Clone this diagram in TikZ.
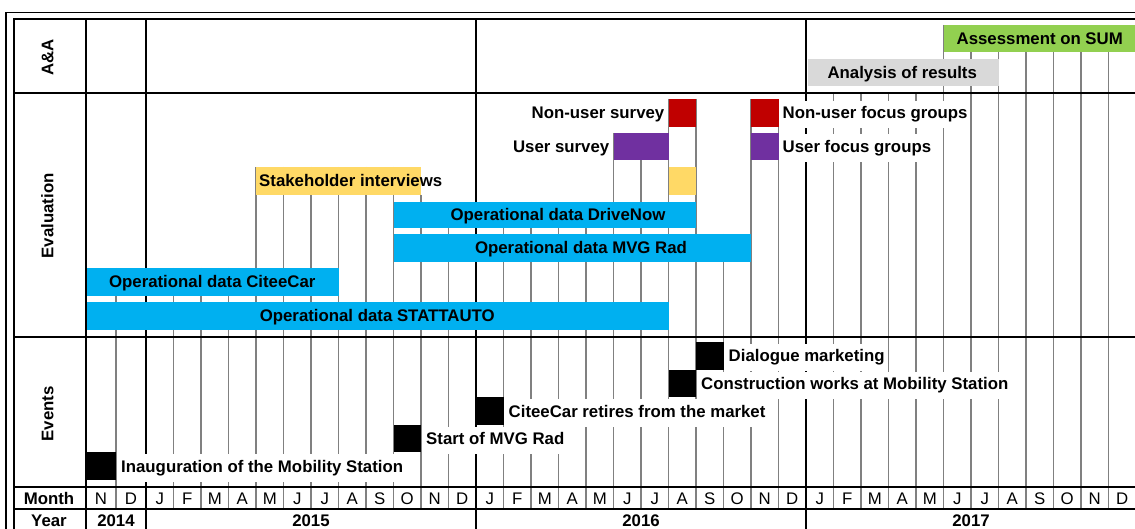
\documentclass[tikz,border=0pt]{standalone}
\usepackage{fontspec}
\setmainfont{Liberation Sans}
\usepackage{xcolor}
\usepackage{tikz}

\definecolor{cbarblue}{HTML}{00B0F0}
\definecolor{cbaryellow}{HTML}{FFD966}
\definecolor{cbarred}{HTML}{C00000}
\definecolor{cbarpurple}{HTML}{7030A0}
\definecolor{cbargreen}{HTML}{92D050}
\definecolor{cbargray}{HTML}{D9D9D9}
\definecolor{clinegray}{HTML}{808080}

\begin{document}
\begin{tikzpicture}[x=1pt,y=-1pt,
	declare function={mx(\k)=(\k<2)*(86+30*\k)+(\k>=2)*(146+27.5*(\k-2));},
	monthline/.style={draw=clinegray,line width=1.3pt},
	boldline/.style={line width=2.2pt},
	txt/.style={font=\fontsize{16.8}{20}\selectfont\bfseries,text height=12pt,text depth=3.5pt,yshift=-1.75pt,inner xsep=2pt,inner ysep=6pt},
	evtag/.style={txt,fill=white},
	mlabel/.style={font=\fontsize{16.8}{20}\selectfont,text height=12pt,text depth=0pt,inner sep=0pt}]
	\useasboundingbox (0,0) rectangle (1135,529);
	
	% month lines, each starting at the first bar it meets
	\foreach \k/\top in {1/268,3/268,4/268,5/268,6/167,7/167,8/167,9/167,10/167,11/167,12/195,13/202,15/202,16/202,17/202,18/202,19/133,20/133,21/99,22/99,23/234,24/99,25/99,27/93,28/93,29/93,30/93,31/25,32/25,33/25,34/25,35/25,36/25,37/25}{
		\draw[monthline] ({mx(\k)},\top) -- ({mx(\k)},509);
	}
	\foreach \k in {2,14,26}{
		\draw[boldline] ({mx(\k)},19) -- ({mx(\k)},540);
	}
	
	% A&A
	\fill[cbargreen] ({mx(31)},25) rectangle ({mx(38)},52);
	\node[txt] (assessment) at ({(mx(31)+mx(38))/2},38.5) {Assessment on SUM};
	\fill[cbargray] ({mx(26)+1.5},59) rectangle ({mx(33)},86);
	\node[txt] (analysis) at ({(mx(26)+mx(33))/2},72.5) {Analysis of results};
	
	% Evaluation
	\fill[cbarred] ({mx(21)},99) rectangle ({mx(22)},127);
	\fill[cbarred] ({mx(24)},99) rectangle ({mx(25)},127);
	\fill[cbarpurple] ({mx(19)},133) rectangle ({mx(21)},160);
	\fill[cbarpurple] ({mx(24)},133) rectangle ({mx(25)},160);
	\fill[cbaryellow] ({mx(6)},167) rectangle ({mx(12)},195);
	\fill[cbaryellow] ({mx(21)},167) rectangle ({mx(22)},195);
	\fill[cbarblue] ({mx(11)},202) rectangle ({mx(22)},228);
	\fill[cbarblue] ({mx(11)},234) rectangle ({mx(24)},262);
	\fill[cbarblue] ({mx(0)},268) rectangle ({mx(9)},296);
	\fill[cbarblue] ({mx(0)},302) rectangle ({mx(21)},330);
	
	\node[evtag,anchor=east] (nonusersurvey) at ({mx(21)-2},113) {Non-user survey};
	\node[evtag,anchor=west] (nonuserfocus) at ({mx(25)+2},113) {Non-user focus groups};
	\node[evtag,anchor=east] (usersurvey) at ({mx(19)-2},146.5) {User survey};
	\node[evtag,anchor=west] (userfocus) at ({mx(25)+2},146.5) {User focus groups};
	\node[txt,anchor=west] (stakeholder) at ({mx(6)+1},181) {Stakeholder interviews};
	\node[txt] (drivenow) at (558,215) {Operational data DriveNow};
	\node[txt] (mvgrad) at (581,248) {Operational data MVG Rad};
	\node[txt] (citeecar) at ({(mx(0)+mx(9))/2},282) {Operational data CiteeCar};
	\node[txt] (stattauto) at ({(mx(0)+mx(21))/2},316) {Operational data STATTAUTO};
	
	% Events
	\fill ({mx(22)},342) rectangle ({mx(23)},369.5);
	\node[evtag,anchor=west] (dialogue) at ({mx(23)+3},355.5) {Dialogue marketing};
	\fill ({mx(21)},369.5) rectangle ({mx(22)},397);
	\node[evtag,anchor=west] (construction) at ({mx(22)+3},383.5) {Construction works at Mobility Station};
	\fill ({mx(14)},397) rectangle ({mx(15)},425);
	\node[evtag,anchor=west] (retires) at ({mx(15)+3},411) {CiteeCar retires from the market};
	\fill ({mx(11)},425) rectangle ({mx(12)},452);
	\node[evtag,anchor=west] (startmvg) at ({mx(12)+3},438.5) {Start of MVG Rad};
	\fill ({mx(0)},452) rectangle ({mx(1)},480);
	\node[evtag,anchor=west] (inauguration) at ({mx(1)+3},466) {Inauguration of the Mobility Station};
	
	% time axis
	\foreach \m [count=\k from 0] in {N,D,J,F,M,A,M,J,J,A,S,O,N,D,J,F,M,A,M,J,J,A,S,O,N,D,J,F,M,A,M,J,J,A,S,O,N,D}{
		\node[mlabel] (m\k) at ({(mx(\k)+mx(\k+1))/2},498) {\m};
	}
	\foreach \yr/\a/\b in {2014/0/2,2015/2/14,2016/14/26,2017/26/38}{
		\node[txt] (y\yr) at ({(mx(\a)+mx(\b))/2},520.5) {\yr};
	}
	
	% row heads
	\node[txt,rotate=90] (aa) at (49,56) {A\&A};
	\node[txt,rotate=90] (evaluation) at (49,214) {Evaluation};
	\node[txt,rotate=90] (events) at (49,412) {Events};
	\node[txt] (monthhead) at (49,498) {Month};
	\node[txt] (yearhead) at (49,520.5) {Year};
	
	% frame
	\foreach \y in {93,337,487,509}{
		\draw[boldline] (14,\y) -- (1145,\y);
	}
	\draw[boldline] (86,19) -- (86,540);
	\draw[boldline] (14,19) rectangle (1142,545);
	\draw[line width=1.8pt] (6,12.5) rectangle (1150,550);
\end{tikzpicture}
\end{document}
